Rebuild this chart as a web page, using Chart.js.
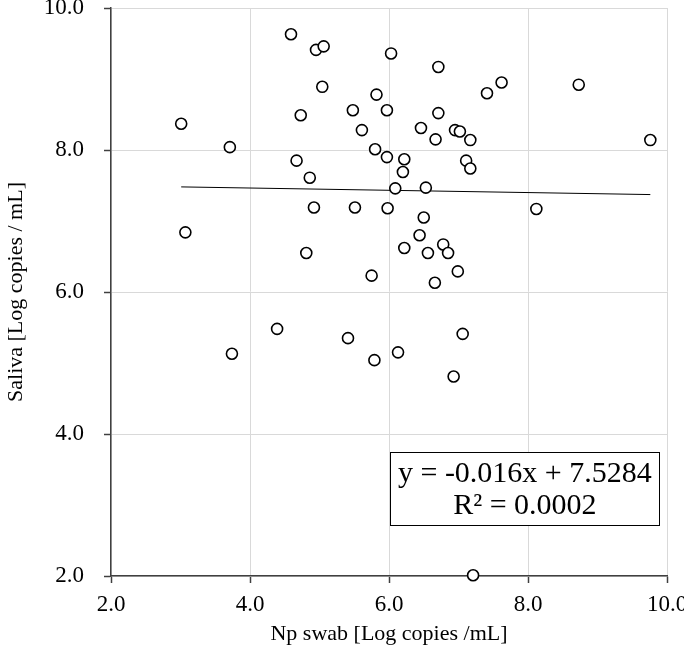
<!DOCTYPE html>
<html><head><meta charset="utf-8">
<script src="https://cdn.jsdelivr.net/npm/chart.js@4/dist/chart.umd.min.js"></script>
<style>html,body{margin:0;padding:0;background:#fff}</style>
</head><body>
<canvas id="c" width="684" height="664"></canvas>
<script>
const npSwab = [4.59,4.95,5.06,6.03,5.04,5.82,4.73,5.48,5.97,3.01,5.61,3.71,5.80,5.97,4.67,4.86,4.92,5.51,5.98,3.07,4.81,5.75,
  6.71,7.62,7.41,8.73,6.71,6.46,6.67,6.95,7.02,7.17,9.76,6.22,6.20,7.11,7.17,6.09,6.53,8.12,6.50,6.44,6.22,6.78,6.56,6.85,6.99,6.66,
  3.74,4.39,5.41,5.79,7.06,6.13,6.93,7.21];
const saliva = [9.63,9.41,9.46,9.36,8.89,8.78,8.49,8.56,8.56,8.37,8.28,8.04,8.01,7.90,7.85,7.61,7.19,7.19,7.18,6.84,6.55,6.23,
  9.17,8.95,8.80,8.92,8.52,8.31,8.15,8.28,8.26,8.14,8.14,7.87,7.69,7.85,7.74,7.46,7.47,7.17,7.05,6.80,6.62,6.67,6.55,6.55,6.29,6.13,
  5.13,5.48,5.35,5.04,5.41,5.15,4.81,2.01];
const trendSlope = -0.016;
const trendIntercept = 7.5284;
const equationLines = ["y = -0.016x + 7.5284", "R\u00b2 = 0.0002"];
const axisMin = 2, axisMax = 10, axisStep = 2;
const xTitle = "Np swab [Log copies /mL]";
const yTitle = "Saliva [Log copies / mL]";

const points = npSwab.map((x, i) => ({x, y: saliva[i]}));
const xMin = Math.min(...npSwab), xMax = Math.max(...npSwab);
const trend = [xMin, xMax].map(x => ({x, y: trendSlope * x + trendIntercept}));

const serif = "'Liberation Serif', 'Times New Roman', serif";

const eqBox = {
  id: 'eqBox',
  afterDatasetsDraw(chart) {
    const {ctx, scales: {x, y}} = chart;
    const l = x.getPixelForValue(6.02), r = x.getPixelForValue(9.89);
    const t = y.getPixelForValue(3.74), b = y.getPixelForValue(2.714);
    ctx.save();
    ctx.fillStyle = '#fff';
    ctx.fillRect(l, t, r - l, b - t);
    ctx.strokeStyle = '#000';
    ctx.lineWidth = 1;
    ctx.strokeRect(Math.round(l) + 0.5, Math.round(t) + 0.5, Math.round(r - l), Math.round(b - t));
    ctx.fillStyle = '#000';
    ctx.font = "30px " + serif;
    ctx.textAlign = 'center';
    ctx.textBaseline = 'middle';
    const cx = (l + r) / 2, cy = (t + b) / 2;
    ctx.fillText(equationLines[0], cx, cy - 15);
    ctx.fillText(equationLines[1], cx, cy + 17);
    ctx.restore();
  }
};

const tickFont = {family: serif, size: 23};
const titleFont = {family: serif, size: 22};

new Chart(document.getElementById('c'), {
  type: 'scatter',
  data: {
    datasets: [
      {
        type: 'line', data: trend, borderColor: '#000', borderWidth: 1,
        pointRadius: 0, fill: false, order: 2, clip: false
      },
      {
        data: points, pointRadius: 5.5, pointHoverRadius: 5.5,
        pointBorderWidth: 1.6, borderColor: '#000', backgroundColor: '#fff',
        pointStyle: 'circle', order: 1, clip: false
      }
    ]
  },
  options: {
    responsive: false, animation: false,
    layout: {padding: {top: 8, right: 17, left: 0, bottom: 0}},
    plugins: {legend: {display: false}, tooltip: {enabled: false}},
    scales: {
      x: {
        type: 'linear', min: axisMin, max: axisMax,
        ticks: {stepSize: axisStep, font: tickFont, color: '#000', padding: 8,
          callback: v => v.toFixed(1), maxRotation: 0},
        grid: {color: '#d9d9d9', lineWidth: 1, tickLength: 7, tickColor: '#404040', tickWidth: 1.5},
        border: {color: '#404040', width: 1.5},
        title: {display: true, text: xTitle, font: titleFont, color: '#000', padding: {top: 17, bottom: 17}},
        afterFit: s => { s.height = 88; s.paddingLeft = 0; s.paddingRight = 0; }
      },
      y: {
        type: 'linear', min: axisMin, max: axisMax,
        ticks: {stepSize: axisStep, font: tickFont, color: '#000', padding: 20,
          callback: v => v.toFixed(1)},
        grid: {color: '#d9d9d9', lineWidth: 1, tickLength: 7, tickColor: '#404040', tickWidth: 1.5},
        border: {color: '#404040', width: 1.5},
        title: {display: true, text: yTitle, font: titleFont, color: '#000', padding: {top: 3, bottom: 3}},
        afterFit: s => { s.width = 111; s.paddingTop = 0; s.paddingBottom = 0; }
      }
    }
  },
  plugins: [eqBox]
});
</script>
</body></html>
